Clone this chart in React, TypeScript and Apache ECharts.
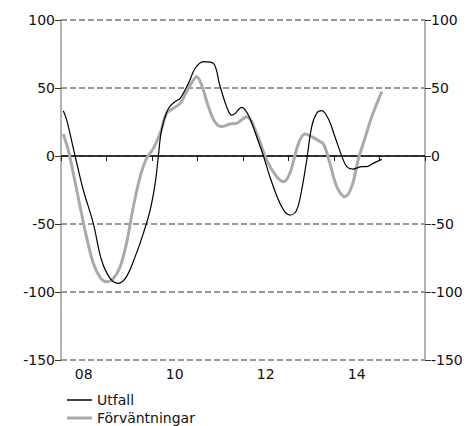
import React, { useEffect, useRef } from "react";
import * as echarts from "echarts";

const years = ["08", "09", "10", "11", "12", "13", "14", "15"];
const yTicks = [-150, -100, -50, 0, 50, 100];

// time as decimal years
const utfallT = [2008.05, 2008.125, 2008.31, 2008.49, 2008.71, 2008.89, 2009.08, 2009.26, 2009.44, 2009.63, 2009.81, 2009.96, 2010.07, 2010.14, 2010.21, 2010.36, 2010.51, 2010.62, 2010.8, 2010.95, 2011.13, 2011.35, 2011.49, 2011.64, 2011.75, 2011.82, 2011.97, 2012.12, 2012.3, 2012.45, 2012.59, 2012.78, 2012.92, 2013.05, 2013.18, 2013.29, 2013.4, 2013.51, 2013.62, 2013.73, 2013.87, 2014.02, 2014.17, 2014.28, 2014.42, 2014.61, 2014.72, 2014.86, 2015.05];
const utfallV = [33.3, 26.5, 0, -25, -49.5, -76.5, -90, -93.6, -88.7, -74, -56.9, -39.7, -20, 0, 19, 35, 40, 42.4, 53.4, 64.5, 69.4, 68.1, 52, 36.3, 30, 31, 35.8, 30, 14.2, 0, -15.2, -32.4, -41, -43.4, -39.7, -25, -3, 21.6, 31.4, 33.3, 27.7, 14.2, 0, -7.8, -9.6, -7.8, -7.8, -5.4, -2.5];

const forvT = [2008.05, 2008.16, 2008.27, 2008.42, 2008.56, 2008.71, 2008.86, 2009.0, 2009.15, 2009.3, 2009.44, 2009.59, 2009.74, 2009.88, 2010.03, 2010.18, 2010.32, 2010.47, 2010.62, 2010.76, 2010.91, 2010.98, 2011.09, 2011.24, 2011.38, 2011.53, 2011.71, 2011.86, 2012.08, 2012.3, 2012.52, 2012.74, 2012.89, 2013.03, 2013.22, 2013.36, 2013.51, 2013.66, 2013.77, 2013.91, 2014.06, 2014.24, 2014.39, 2014.53, 2014.68, 2014.83, 2015.05];
const forvV = [16.2, 4.4, -12.7, -37.3, -59.3, -78.9, -89.2, -92.4, -90, -81.4, -64.2, -37.3, -15.2, -1.7, 5.6, 16.7, 31.4, 35, 38.7, 47.3, 55.9, 58.3, 52.2, 36.3, 25.2, 21.6, 23.5, 24, 28.9, 16.7, -3, -15.2, -18.9, -12.7, 9.3, 16.2, 14.2, 11.3, 8.8, -5.4, -22.5, -29.9, -22.5, -3, 13, 28.9, 47.3];

const utfallData = utfallT.map((t, i) => [t, utfallV[i]]);
const forvData = forvT.map((t, i) => [t, forvV[i]]);

const FONT = "DejaVu Sans";

export default function App() {
  const ref = useRef<HTMLDivElement>(null);
  useEffect(() => {
    const chart = echarts.init(ref.current!, null, { renderer: "svg" });
    const yAxisBase = {
      type: "value",
      min: -150,
      max: 100,
      interval: 50,
      axisLine: { show: true, lineStyle: { color: "#999", width: 1.5 } },
      axisTick: { show: true, length: 6, lineStyle: { color: "#333", width: 1 } },
      axisLabel: { fontFamily: FONT, fontSize: 14, color: "#111", margin: 6 },
    };
    chart.setOption({
      animation: false,
      grid: { left: 61, right: 46, top: 20, bottom: 66, containLabel: false },
      xAxis: [
        {
          type: "category",
          data: years,
          boundaryGap: true,
          position: "bottom",
          axisLine: { show: true, lineStyle: { color: "#c8c8c8", width: 1 } },
          axisTick: { show: true, interval: 0, length: 5, lineStyle: { color: "#222" } },
          axisLabel: { interval: 1, fontFamily: FONT, fontSize: 14, color: "#111", margin: 7 },
          splitLine: { show: false },
        },
        {
          type: "value",
          min: 2008,
          max: 2016,
          show: false,
          splitLine: { show: false },
        },
      ],
      yAxis: [
        {
          ...yAxisBase,
          position: "left",
          splitLine: { show: true, lineStyle: { color: "#777", width: 1.5, type: [6, 3] } },
        },
        {
          ...yAxisBase,
          position: "right",
          splitLine: { show: false },
        },
      ],
      legend: [
        {
          data: ["Utfall"],
          orient: "vertical",
          left: 67,
          top: 393,
          padding: 0,
          icon: "rect",
          itemWidth: 25,
          itemHeight: 1.5,
          itemGap: 0,
          textStyle: { fontFamily: FONT, fontSize: 14, color: "#111" },
        },
        {
          data: ["Förväntningar"],
          orient: "vertical",
          left: 67,
          top: 411,
          padding: 0,
          icon: "rect",
          itemWidth: 25,
          itemHeight: 3,
          itemGap: 0,
          textStyle: { fontFamily: FONT, fontSize: 14, color: "#111" },
        },
      ],
      series: [
        {
          name: "Förväntningar",
          type: "line",
          xAxisIndex: 1,
          yAxisIndex: 0,
          data: forvData,
          showSymbol: false,
          symbol: "none",
          smooth: 0.35,
          lineStyle: { color: "#aaaaaa", width: 3 },
          itemStyle: { color: "#aaaaaa" },
          z: 3,
          markLine: {
            silent: true,
            symbol: "none",
            label: { show: false },
            lineStyle: { color: "#000", width: 1.5, type: "solid" },
            data: [[{ coord: [2008, 0] }, { coord: [2016, 0] }]],
            z: 2,
          },
        },
        {
          name: "Utfall",
          type: "line",
          xAxisIndex: 1,
          yAxisIndex: 0,
          data: utfallData,
          showSymbol: false,
          symbol: "none",
          smooth: 0.35,
          lineStyle: { color: "#000", width: 1.2 },
          itemStyle: { color: "#000" },
          z: 4,
        },
      ],
    });
    return () => chart.dispose();
  }, []);
  return (
    <div
      ref={ref}
      style={{ position: "absolute", left: 0, top: 0, width: 471, height: 426 }}
    />
  );
}
